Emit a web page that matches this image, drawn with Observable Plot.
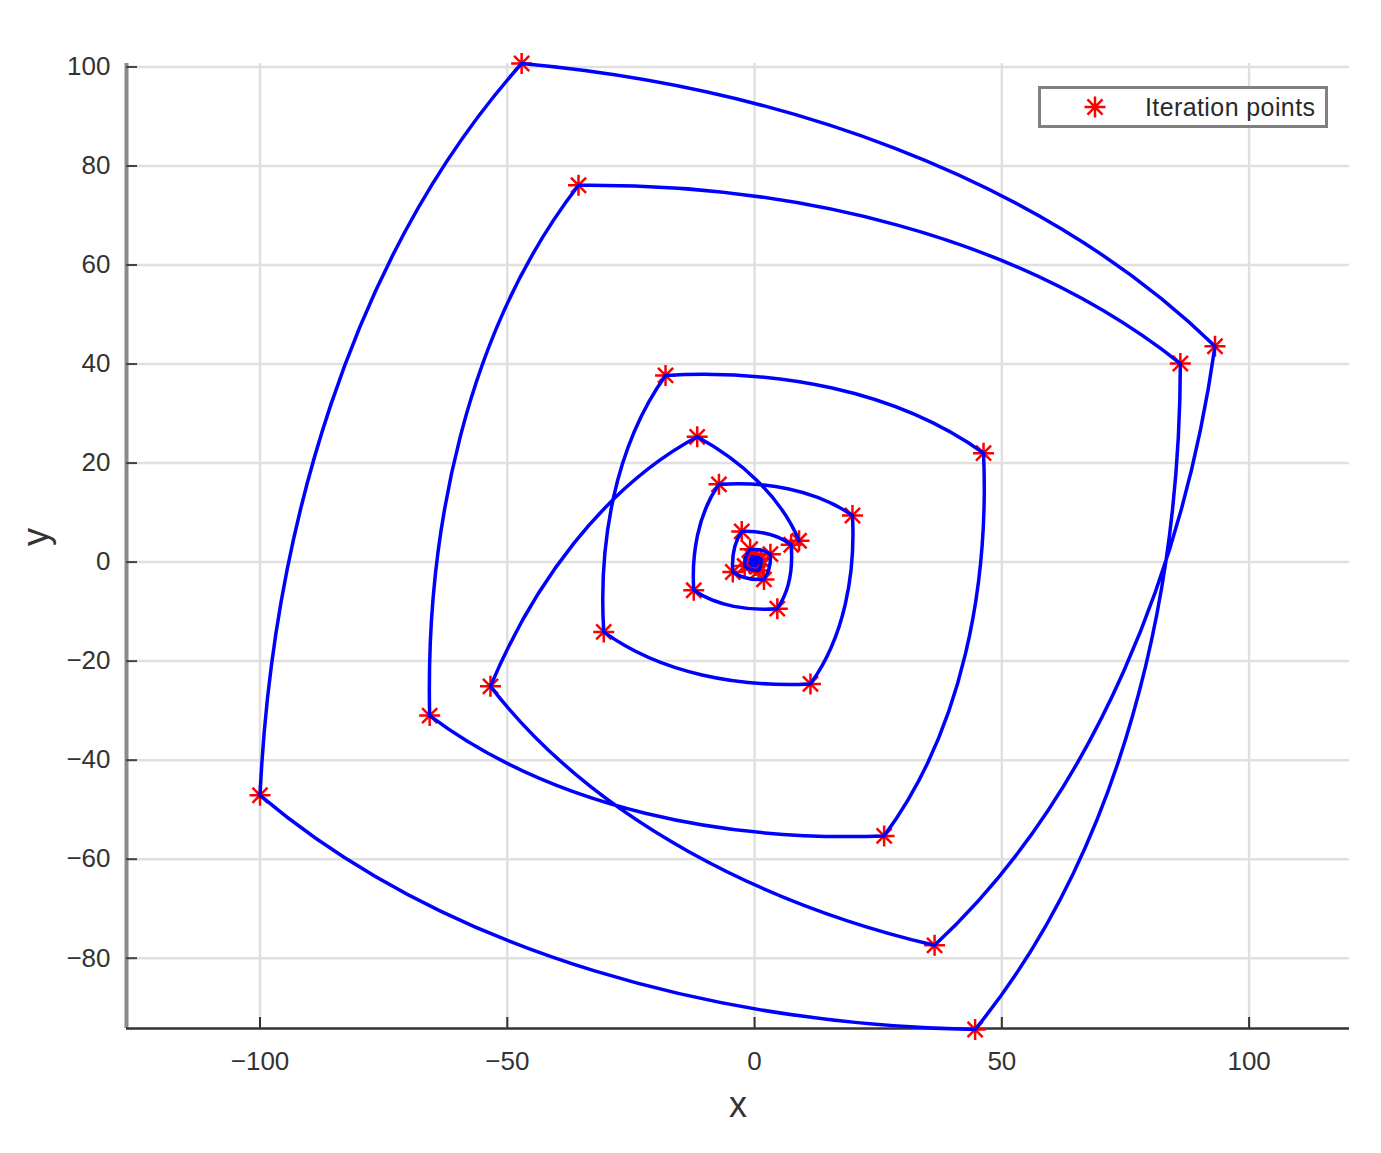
<!DOCTYPE html>
<html>
<head>
<meta charset="utf-8">
<script src="https://cdn.jsdelivr.net/npm/d3@7"></script>
<script src="https://cdn.jsdelivr.net/npm/@observablehq/plot@0.6"></script>
<style>
  body { margin: 0; background: #ffffff; }
  #wrap { position: relative; width: 1381px; height: 1153px; background: #ffffff; font-family: "Liberation Sans", Arial, sans-serif; }
  #legendBox { position: absolute; left: 1038px; top: 86px; width: 290px; height: 42px; box-sizing: border-box; border: 3.5px solid #808080; background: #ffffff; }
  #legendStar { position: absolute; left: 1084px; top: 96px; }
  #legendText { position: absolute; left: 1145px; top: 94.5px; font-size: 25px; line-height: 25px; letter-spacing: 0.4px; color: #2a2a2a; white-space: nowrap; }
</style>
</head>
<body>
<div id="wrap"></div>
<script>
// Iteration points, in order
const iterX = [9.0, -11.6, -53.4, 36.4, 93.1, -47.1, -100.0, 44.6, 86.1, -35.6, -65.7, 26.2, 46.3, -18.0, -30.5, 11.3, 19.8, -7.2, -12.3, 4.6, 7.4, -2.6, -4.4, 1.9, 3.2, -0.9, -2.0, 0.8, 1.3, -0.5, -0.9, 0.3, 0.55, -0.2, -0.35, 0.1, 0.2];
const iterY = [4.3, 25.3, -25.1, -77.4, 43.6, 100.7, -47.1, -94.4, 40.1, 76.1, -31.0, -55.3, 22.0, 37.7, -14.1, -24.6, 9.4, 15.7, -5.7, -9.4, 3.5, 6.2, -2.0, -3.5, 1.6, 2.6, -0.8, -1.7, 0.6, 1.1, -0.4, -0.7, 0.25, 0.45, -0.15, -0.3, 0.1];

const xTicks = [-100, -50, 0, 50, 100];
const yTicks = [-80, -60, -40, -20, 0, 20, 40, 60, 80, 100];
const xDomain = [-127.0, 120.3];
const yDomain = [-94.2, 100.7];
const seriesName = "Iteration points";
const xLabel = "x";
const yLabel = "y";

const W = 1381, H = 1153;
const mL = 126, mR = 32, mT = 63, mB = 125;
const tickPx = 11;
const tickLenX = tickPx * (xDomain[1] - xDomain[0]) / (W - mL - mR);
const tickLenY = tickPx * (yDomain[1] - yDomain[0]) / (H - mT - mB);

const pts = iterX.map((x, i) => ({x, y: iterY[i]}));
const fmt = d => d < 0 ? "\u2212" + (-d) : String(d);

// Each step is drawn as a gently bowed arc (bulging outward, like the reference)
const A0 = 22 * Math.PI / 180, A1 = 17 * Math.PI / 180;
function spiralCurve(context) {
  let p = [];
  return {
    areaStart() {}, areaEnd() {},
    lineStart() { p = []; },
    point(x, y) { p.push([+x, +y]); },
    lineEnd() {
      if (!p.length) return;
      context.moveTo(p[0][0], p[0][1]);
      for (let i = 1; i < p.length; i++) {
        const [x0, y0] = p[i - 1], [x1, y1] = p[i];
        const dx = x1 - x0, dy = -(y1 - y0);
        const L = Math.hypot(dx, dy);
        const phi = Math.atan2(dy, dx);
        const h = L / 3;
        const c1x = x0 + h * Math.cos(phi - A0), c1y = y0 - h * Math.sin(phi - A0);
        const c2x = x1 - h * Math.cos(phi + A1), c2y = y1 + h * Math.sin(phi + A1);
        context.bezierCurveTo(c1x, c1y, c2x, c2y, x1, y1);
      }
    }
  };
}

const asterisk = {
  draw(ctx, size) {
    const r = Math.sqrt(size / Math.PI), d = r * 0.72;
    ctx.moveTo(-r, 0); ctx.lineTo(r, 0);
    ctx.moveTo(0, -r); ctx.lineTo(0, r);
    ctx.moveTo(-d, -d); ctx.lineTo(d, d);
    ctx.moveTo(-d, d); ctx.lineTo(d, -d);
  }
};
const starR = 10.5;

const chart = Plot.plot({
  width: W, height: H,
  marginLeft: mL, marginRight: mR, marginTop: mT, marginBottom: mB,
  x: {domain: xDomain, axis: null},
  y: {domain: yDomain, axis: null},
  style: {fontFamily: "Liberation Sans, Arial, sans-serif", background: "#ffffff", overflow: "visible"},
  marks: [
    Plot.ruleX(xTicks, {x: d => d, stroke: "#e0e0e0", strokeWidth: 2.5}),
    Plot.ruleY(yTicks, {y: d => d, stroke: "#e0e0e0", strokeWidth: 2.5}),
    Plot.ruleX([xDomain[0]], {x: d => d, stroke: "#8a8a8a", strokeWidth: 4}),
    Plot.ruleY([yDomain[0]], {y: d => d, stroke: "#333333", strokeWidth: 2.5}),
    Plot.ruleX(xTicks, {x: d => d, y1: yDomain[0], y2: yDomain[0] + tickLenY, stroke: "#333333", strokeWidth: 2}),
    Plot.ruleY(yTicks, {y: d => d, x1: xDomain[0], x2: xDomain[0] + tickLenX, stroke: "#444444", strokeWidth: 2}),
    Plot.dot(pts, {x: "x", y: "y", r: starR, symbol: asterisk, stroke: "#ff0000", strokeWidth: 2.5, fill: "none"}),
    Plot.line(pts, {x: "x", y: "y", stroke: "#0000ff", strokeWidth: 3.5, curve: spiralCurve}),
    Plot.text(xTicks, {x: d => d, y: yDomain[0], dy: 33, text: fmt, fontSize: 26, fill: "#333333"}),
    Plot.text(yTicks, {x: xDomain[0], y: d => d, dx: -16, text: fmt, textAnchor: "end", fontSize: 26, fill: "#333333"}),
    Plot.text([xLabel], {frameAnchor: "bottom", dy: 88, text: d => d, fontSize: 36, fill: "#333333"}),
    Plot.text([yLabel], {frameAnchor: "left", dx: -90, rotate: -90, text: d => d, fontSize: 36, fill: "#333333"})
  ]
});

const wrap = document.getElementById("wrap");
wrap.appendChild(chart);

// Legend (inside the plot area, top right)
const box = document.createElement("div");
box.id = "legendBox";
wrap.appendChild(box);
const star = d3.create("svg").attr("id", "legendStar").attr("width", 22).attr("height", 22);
const sp = d3.path();
asterisk.draw(sp, starR * starR * Math.PI);
star.append("path").attr("transform", "translate(11,11)").attr("d", sp.toString())
  .attr("stroke", "#ff0000").attr("stroke-width", 2.5).attr("fill", "none");
wrap.appendChild(star.node());
const txt = document.createElement("span");
txt.id = "legendText";
txt.textContent = seriesName;
wrap.appendChild(txt);
</script>
</body>
</html>
